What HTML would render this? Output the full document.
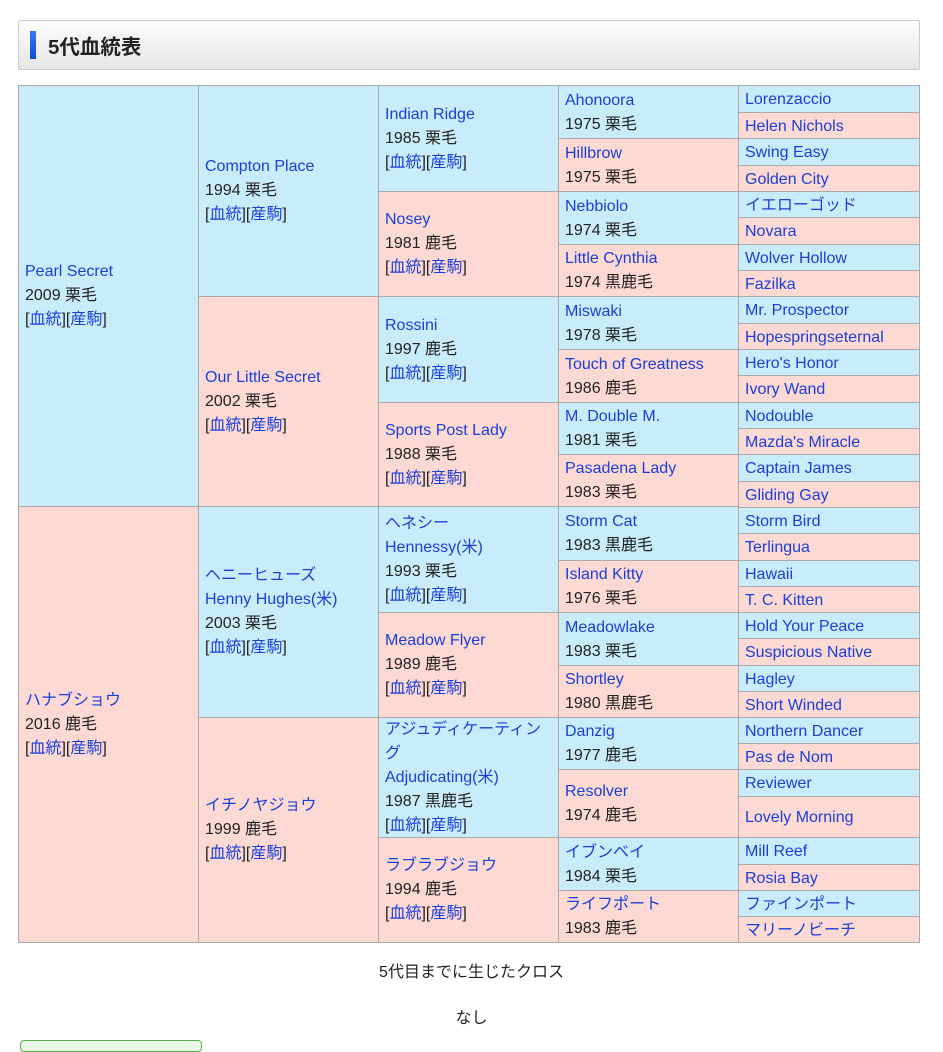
<!DOCTYPE html><html><head><meta charset="utf-8"><style>
body{margin:0;background:#fff;font-family:"Liberation Sans","Noto Sans CJK JP",sans-serif;font-size:16px;color:#222;width:943px;height:1043px;position:relative;overflow:hidden}
.h{position:absolute;left:18px;top:20px;width:900px;height:48px;border:1px solid #ccc;border-radius:2px;background:linear-gradient(#fdfdfd,#e6e6e6)}
.h i{position:absolute;left:11px;top:10px;width:6px;height:28px;background:linear-gradient(#3a78f0,#0a4fd8)}
.h b{position:absolute;left:29px;top:9px;font-size:20.5px}
.c{position:absolute;box-sizing:border-box;border:1px solid #aaa;display:flex;flex-direction:column;justify-content:center;padding-left:6px;line-height:24px;font-size:16px}
.b{background:#c9ecfb}.p{background:#fdd9d4}
a{color:#1a3fd8;text-decoration:none}
.g4{padding-top:1px}
.g5{line-height:20px;padding-top:2px}
.t{position:absolute;width:943px;text-align:center;left:0}
</style></head><body>
<div class="h"><i></i><b>5代血統表</b></div>

<div class="c b" style="left:18px;top:85px;width:181px;height:422px"><a>Pearl Secret</a><span>2009 栗毛</span><span>[<a>血統</a>][<a>産駒</a>]</span></div>
<div class="c p" style="left:18px;top:506px;width:181px;height:437px"><a>ハナブショウ</a><span>2016 鹿毛</span><span>[<a>血統</a>][<a>産駒</a>]</span></div>

<div class="c b" style="left:198px;top:85px;width:181px;height:212px"><a>Compton Place</a><span>1994 栗毛</span><span>[<a>血統</a>][<a>産駒</a>]</span></div>
<div class="c p" style="left:198px;top:296px;width:181px;height:211px"><a>Our Little Secret</a><span>2002 栗毛</span><span>[<a>血統</a>][<a>産駒</a>]</span></div>
<div class="c b" style="left:198px;top:506px;width:181px;height:212px"><a>ヘニーヒューズ</a><a>Henny Hughes(米)</a><span>2003 栗毛</span><span>[<a>血統</a>][<a>産駒</a>]</span></div>
<div class="c p" style="left:198px;top:717px;width:181px;height:226px"><a>イチノヤジョウ</a><span>1999 鹿毛</span><span>[<a>血統</a>][<a>産駒</a>]</span></div>

<div class="c b" style="left:378px;top:85px;width:181px;height:107px"><a>Indian Ridge</a><span>1985 栗毛</span><span>[<a>血統</a>][<a>産駒</a>]</span></div>
<div class="c p" style="left:378px;top:191px;width:181px;height:106px"><a>Nosey</a><span>1981 鹿毛</span><span>[<a>血統</a>][<a>産駒</a>]</span></div>
<div class="c b" style="left:378px;top:296px;width:181px;height:107px"><a>Rossini</a><span>1997 鹿毛</span><span>[<a>血統</a>][<a>産駒</a>]</span></div>
<div class="c p" style="left:378px;top:402px;width:181px;height:105px"><a>Sports Post Lady</a><span>1988 栗毛</span><span>[<a>血統</a>][<a>産駒</a>]</span></div>
<div class="c b" style="left:378px;top:506px;width:181px;height:107px"><a>ヘネシー</a><a>Hennessy(米)</a><span>1993 栗毛</span><span>[<a>血統</a>][<a>産駒</a>]</span></div>
<div class="c p" style="left:378px;top:612px;width:181px;height:106px"><a>Meadow Flyer</a><span>1989 鹿毛</span><span>[<a>血統</a>][<a>産駒</a>]</span></div>
<div class="c b" style="left:378px;top:717px;width:181px;height:121px"><a>アジュディケーティン</a><a>グ</a><a>Adjudicating(米)</a><span>1987 黒鹿毛</span><span>[<a>血統</a>][<a>産駒</a>]</span></div>
<div class="c p" style="left:378px;top:837px;width:181px;height:106px"><a>ラブラブジョウ</a><span>1994 鹿毛</span><span>[<a>血統</a>][<a>産駒</a>]</span></div>

<div class="c g4 b" style="left:558px;top:85px;width:181px;height:54px"><a>Ahonoora</a><span>1975 栗毛</span></div>
<div class="c g4 p" style="left:558px;top:138px;width:181px;height:54px"><a>Hillbrow</a><span>1975 栗毛</span></div>
<div class="c g4 b" style="left:558px;top:191px;width:181px;height:54px"><a>Nebbiolo</a><span>1974 栗毛</span></div>
<div class="c g4 p" style="left:558px;top:244px;width:181px;height:53px"><a>Little Cynthia</a><span>1974 黒鹿毛</span></div>
<div class="c g4 b" style="left:558px;top:296px;width:181px;height:54px"><a>Miswaki</a><span>1978 栗毛</span></div>
<div class="c g4 p" style="left:558px;top:349px;width:181px;height:54px"><a>Touch of Greatness</a><span>1986 鹿毛</span></div>
<div class="c g4 b" style="left:558px;top:402px;width:181px;height:53px"><a>M. Double M.</a><span>1981 栗毛</span></div>
<div class="c g4 p" style="left:558px;top:454px;width:181px;height:53px"><a>Pasadena Lady</a><span>1983 栗毛</span></div>
<div class="c g4 b" style="left:558px;top:506px;width:181px;height:55px"><a>Storm Cat</a><span>1983 黒鹿毛</span></div>
<div class="c g4 p" style="left:558px;top:560px;width:181px;height:53px"><a>Island Kitty</a><span>1976 栗毛</span></div>
<div class="c g4 b" style="left:558px;top:612px;width:181px;height:54px"><a>Meadowlake</a><span>1983 栗毛</span></div>
<div class="c g4 p" style="left:558px;top:665px;width:181px;height:53px"><a>Shortley</a><span>1980 黒鹿毛</span></div>
<div class="c g4 b" style="left:558px;top:717px;width:181px;height:53px"><a>Danzig</a><span>1977 鹿毛</span></div>
<div class="c g4 p" style="left:558px;top:769px;width:181px;height:69px"><a>Resolver</a><span>1974 鹿毛</span></div>
<div class="c g4 b" style="left:558px;top:837px;width:181px;height:54px"><a>イブンベイ</a><span>1984 栗毛</span></div>
<div class="c g4 p" style="left:558px;top:890px;width:181px;height:53px"><a>ライフポート</a><span>1983 鹿毛</span></div>

<div class="c g5 b" style="left:738px;top:85px;width:182px;height:28px"><a>Lorenzaccio</a></div>
<div class="c g5 p" style="left:738px;top:112px;width:182px;height:27px"><a>Helen Nichols</a></div>
<div class="c g5 b" style="left:738px;top:138px;width:182px;height:28px"><a>Swing Easy</a></div>
<div class="c g5 p" style="left:738px;top:165px;width:182px;height:27px"><a>Golden City</a></div>
<div class="c g5 b" style="left:738px;top:191px;width:182px;height:27px"><a>イエローゴッド</a></div>
<div class="c g5 p" style="left:738px;top:217px;width:182px;height:28px"><a>Novara</a></div>
<div class="c g5 b" style="left:738px;top:244px;width:182px;height:27px"><a>Wolver Hollow</a></div>
<div class="c g5 p" style="left:738px;top:270px;width:182px;height:27px"><a>Fazilka</a></div>
<div class="c g5 b" style="left:738px;top:296px;width:182px;height:28px"><a>Mr. Prospector</a></div>
<div class="c g5 p" style="left:738px;top:323px;width:182px;height:27px"><a>Hopespringseternal</a></div>
<div class="c g5 b" style="left:738px;top:349px;width:182px;height:27px"><a>Hero's Honor</a></div>
<div class="c g5 p" style="left:738px;top:375px;width:182px;height:28px"><a>Ivory Wand</a></div>
<div class="c g5 b" style="left:738px;top:402px;width:182px;height:27px"><a>Nodouble</a></div>
<div class="c g5 p" style="left:738px;top:428px;width:182px;height:27px"><a>Mazda's Miracle</a></div>
<div class="c g5 b" style="left:738px;top:454px;width:182px;height:28px"><a>Captain James</a></div>
<div class="c g5 p" style="left:738px;top:481px;width:182px;height:27px"><a>Gliding Gay</a></div>
<div class="c g5 b" style="left:738px;top:507px;width:182px;height:27px"><a>Storm Bird</a></div>
<div class="c g5 p" style="left:738px;top:533px;width:182px;height:28px"><a>Terlingua</a></div>
<div class="c g5 b" style="left:738px;top:560px;width:182px;height:27px"><a>Hawaii</a></div>
<div class="c g5 p" style="left:738px;top:586px;width:182px;height:27px"><a>T. C. Kitten</a></div>
<div class="c g5 b" style="left:738px;top:612px;width:182px;height:27px"><a>Hold Your Peace</a></div>
<div class="c g5 p" style="left:738px;top:638px;width:182px;height:28px"><a>Suspicious Native</a></div>
<div class="c g5 b" style="left:738px;top:665px;width:182px;height:27px"><a>Hagley</a></div>
<div class="c g5 p" style="left:738px;top:691px;width:182px;height:27px"><a>Short Winded</a></div>
<div class="c g5 b" style="left:738px;top:717px;width:182px;height:27px"><a>Northern Dancer</a></div>
<div class="c g5 p" style="left:738px;top:743px;width:182px;height:27px"><a>Pas de Nom</a></div>
<div class="c g5 b" style="left:738px;top:769px;width:182px;height:28px"><a>Reviewer</a></div>
<div class="c g5 p" style="left:738px;top:796px;width:182px;height:42px"><a>Lovely Morning</a></div>
<div class="c g5 b" style="left:738px;top:837px;width:182px;height:28px"><a>Mill Reef</a></div>
<div class="c g5 p" style="left:738px;top:864px;width:182px;height:27px"><a>Rosia Bay</a></div>
<div class="c g5 b" style="left:738px;top:890px;width:182px;height:27px"><a>ファインポート</a></div>
<div class="c g5 p" style="left:738px;top:916px;width:182px;height:27px"><a>マリーノビーチ</a></div>

<div class="t" style="top:958px">5代目までに生じたクロス</div>
<div class="t" style="top:1004px">なし</div>
<div style="position:absolute;left:20px;top:1040px;width:180px;height:10px;border:1px solid #5ab04a;border-radius:4px;background:#eaf6e6"></div>
</body></html>
